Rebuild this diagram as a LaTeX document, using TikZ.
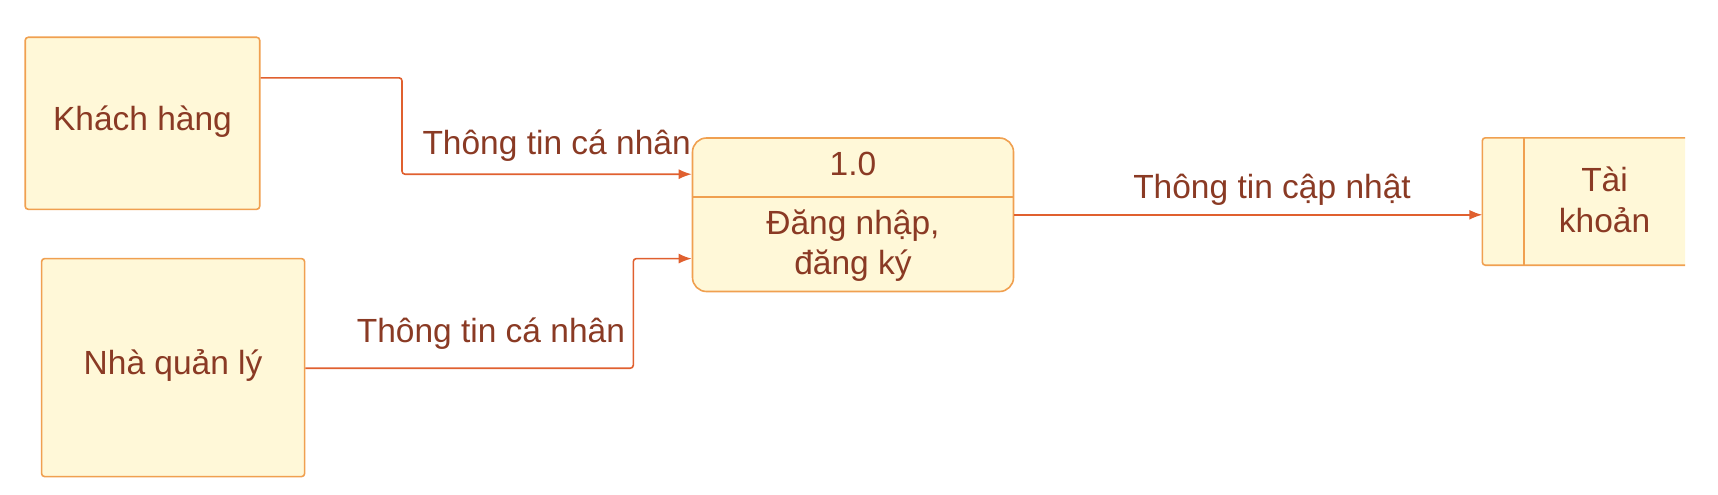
\documentclass[tikz,border=0pt]{standalone}
\usepackage{fontspec}
\setmainfont{Liberation Sans}
\usetikzlibrary{arrows.meta}
\definecolor{boxfill}{HTML}{FFF8D8}
\definecolor{boxline}{HTML}{F0A050}
\definecolor{flowline}{HTML}{E0602F}
\definecolor{txt}{HTML}{8A3A24}
\tikzset{
  entity/.style={draw=boxline, fill=boxfill, line width=1.6pt, rounded corners=3pt, inner sep=0pt},
  proc/.style={draw=boxline, fill=boxfill, line width=1.6pt, rounded corners=14pt, inner sep=0pt},
  lbl/.style={text=txt, font=\fontsize{33.5}{40.6}\selectfont, inner sep=0pt, align=center},
  flow/.style={draw=flowline, line width=1.6pt, rounded corners=3pt, -{Latex[length=13pt,width=10pt]}},
}
\begin{document}
\begin{tikzpicture}[x=1pt,y=-1pt]
\useasboundingbox (0,0) rectangle (1718,495);
% entities
\node[entity, minimum width=234.5pt, minimum height=172pt] (kh) at (142.45,123.3) {};
\node[lbl] (khT) at (142.45,121.5) {Khách hàng};
\node[entity, minimum width=263pt, minimum height=218pt] (ql) at (173.1,367.6) {};
\node[lbl] (qlT) at (173.1,365.5) {Nhà quản lý};
% process
\node[proc, minimum width=321pt, minimum height=153.5pt] (p) at (853,214.75) {};
\draw[boxline, line width=1.6pt] (p.west |- 0,197.2) coordinate (pdl) -- (p.east |- 0,197.2) coordinate (pdr);
\node[lbl] (pid) at (853,163.5) {1.0};
\node[lbl] (pname) at (853,245.5) {Đăng nhập,\\đăng ký};
% data store (open right side)
\node[minimum width=202.5pt, minimum height=127pt, inner sep=0pt] (ds) at (1583.75,201.5) {};
\filldraw[fill=boxfill, draw=boxline, line width=1.6pt, rounded corners=3pt]
  (ds.north east) -- (ds.north west) -- (ds.south west) -- (ds.south east);
\draw[boxline, line width=1.6pt] (1524,138) coordinate (dsd1) -- (1524,265) coordinate (dsd2);
\node[lbl] (dsT) at (1604.5,200) {Tài\\khoản};
% flows
\coordinate (k1) at (402,77.8);
\coordinate (k2) at (402,174.2);
\draw[flow] (kh.east |- k1) -- (k1) -- (k2) -- (p.west |- k2);
\node[lbl] (f1) at (556.6,145.5) {Thông tin cá nhân};
\coordinate (q1) at (633.3,368.2);
\coordinate (q2) at (633.3,258.6);
\draw[flow] (ql.east |- q1) -- (q1) -- (q2) -- (p.west |- q2);
\node[lbl] (f2) at (490.9,334) {Thông tin cá nhân};
\coordinate (r1) at (1013.5,214.8);
\draw[flow] (p.east |- r1) -- (ds.west |- r1);
\node[lbl] (f3) at (1272,190) {Thông tin cập nhật};
\end{tikzpicture}
\end{document}
